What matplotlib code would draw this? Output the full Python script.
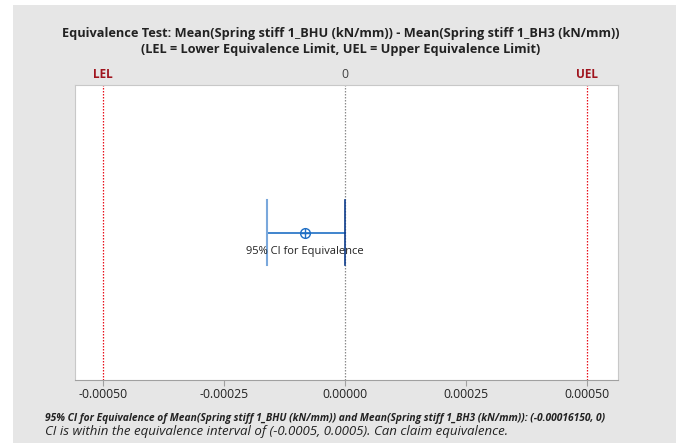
import matplotlib
matplotlib.use('Agg')
import matplotlib.pyplot as plt
from matplotlib.patches import Rectangle

plt.rcParams['font.family'] = ['Open Sans', 'DejaVu Sans']

# данные
lel = -0.0005
uel = 0.0005
ci_low = -0.0001615
ci_high = 0.0
mean_diff = -0.0000826
xticks = [-0.0005, -0.00025, 0.0, 0.00025, 0.0005]
xtick_labels = ['-0.00050', '-0.00025', '0.00000', '0.00025', '0.00050']

fig = plt.figure(figsize=(6.81, 4.45), dpi=100)
fig.patch.set_facecolor('white')

# серый фон панели
bg = Rectangle((13 / 681, 2 / 445), 663 / 681, 438 / 445,
               transform=fig.transFigure, facecolor='#e6e6e6',
               edgecolor='none', zorder=-10)
fig.add_artist(bg)

ax = fig.add_axes([75 / 681, 65 / 445, 543 / 681, 295 / 445])
ax.set_zorder(1)
ax.set_facecolor('white')
for s in ['top', 'right', 'left']:
    ax.spines[s].set_color('#c8c8c8')
ax.spines['bottom'].set_color('#a0a0a0')

ax.set_xlim(-0.000558, 0.000564)
ax.set_ylim(0, 1)
ax.set_yticks([])
ax.set_xticks(xticks)
ax.set_xticklabels(xtick_labels, fontsize=8.8, color='#222222')
ax.tick_params(axis='x', direction='out', length=4, color='#a0a0a0', pad=2)

# пределы эквивалентности
ax.axvline(lel, color='#e8101c', linestyle=(0, (1.2, 1.2)), linewidth=0.9)
ax.axvline(uel, color='#e8101c', linestyle=(0, (1.2, 1.2)), linewidth=0.9)
ax.axvline(0, color='#8c8c8c', linestyle=(0, (1.2, 1.2)), linewidth=0.9)

ax.text(lel, 1.015, 'LEL', color='#a0141e', fontsize=8.5, fontweight='bold',
        ha='center', va='bottom', transform=ax.get_xaxis_transform())
ax.text(uel, 1.015, 'UEL', color='#a0141e', fontsize=8.5, fontweight='bold',
        ha='center', va='bottom', transform=ax.get_xaxis_transform())
ax.text(0, 1.015, '0', color='#404040', fontsize=8.8,
        ha='center', va='bottom', transform=ax.get_xaxis_transform())

# доверительный интервал
y0 = 0.5
ax.plot([ci_low, ci_high], [y0, y0], color='#1f6fc5', linewidth=1.2)
ax.plot([ci_low, ci_low], [y0 - 0.11, y0 + 0.11], color='#7aa8dc', linewidth=1.5)
ax.plot([ci_high, ci_high], [y0 - 0.11, y0 + 0.11], color='#0d3c8c', linewidth=1.2)
ax.plot(mean_diff, y0, marker='o', markersize=7, markerfacecolor='none',
        markeredgecolor='#1f6fc5', markeredgewidth=1.0)
ax.plot(mean_diff, y0, marker='+', markersize=7, color='#1f6fc5', markeredgewidth=1.0)
ax.text(mean_diff, y0 - 0.045, '95% CI for Equivalence', fontsize=8, ha='center',
        va='top', color='#222222')

fig.text(0.5, 1 - 33 / 445, 'Equivalence Test: Mean(Spring stiff 1_BHU (kN/mm)) - Mean(Spring stiff 1_BH3 (kN/mm))',
         ha='center', va='center', fontsize=9.2, fontweight='bold', color='#222222')
fig.text(0.5, 1 - 50 / 445, '(LEL = Lower Equivalence Limit, UEL = Upper Equivalence Limit)',
         ha='center', va='center', fontsize=9.2, fontweight='bold', color='#222222')

fig.text(45 / 681, 1 - 418 / 445,
         '95% CI for Equivalence of Mean(Spring stiff 1_BHU (kN/mm)) and Mean(Spring stiff 1_BH3 (kN/mm)): (-0.00016150, 0)',
         ha='left', va='center', fontsize=7.4, fontweight='bold', style='italic', color='#222222')
fig.text(45 / 681, 1 - 432 / 445,
         'CI is within the equivalence interval of (-0.0005, 0.0005). Can claim equivalence.',
         ha='left', va='center', fontsize=9.5, style='italic', color='#222222')

fig.savefig('out.png', dpi=100)
